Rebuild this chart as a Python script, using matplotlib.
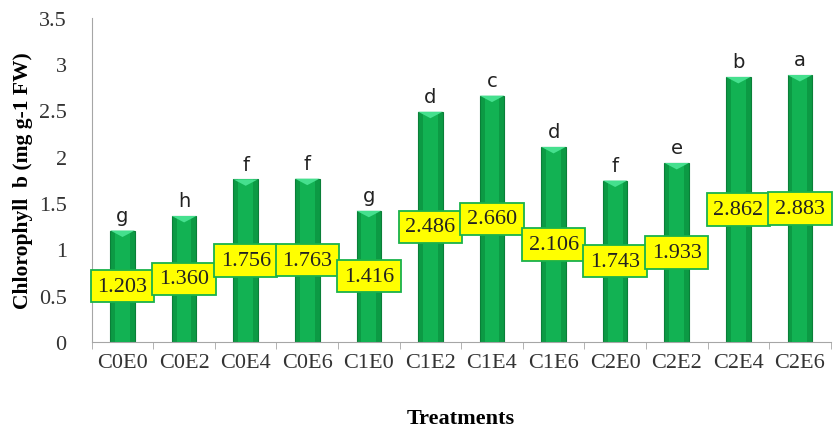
import matplotlib
matplotlib.use('Agg')
import matplotlib.pyplot as plt
import numpy as np

treatments = ['C0E0', 'C0E2', 'C0E4', 'C0E6', 'C1E0', 'C1E2',
              'C1E4', 'C1E6', 'C2E0', 'C2E2', 'C2E4', 'C2E6']
chl_b = [1.203, 1.360, 1.756, 1.763, 1.416, 2.486,
         2.660, 2.106, 1.743, 1.933, 2.862, 2.883]
letters = ['g', 'h', 'f', 'f', 'g', 'd', 'c', 'd', 'f', 'e', 'b', 'a']

plt.rcParams['font.family'] = 'Liberation Serif'

fig = plt.figure(figsize=(8.34, 4.39), dpi=100)
ax = fig.add_axes([0.110, 0.219, 0.886, 0.738])

x = np.arange(len(treatments))
width = 0.4

# main bar, darker edges, lighter core to fake the cylinder look
ax.bar(x, chl_b, width, color='#0C9A44', edgecolor='#0A7F38', linewidth=0.8, zorder=2)
ax.bar(x, chl_b, width * 0.6, color='#12B253', linewidth=0, zorder=3)
for xi, v in zip(x, chl_b):
    ax.fill([xi - width/2, xi + width/2, xi], [v, v, v - 0.07],
            color='#45E08E', zorder=4, linewidth=0)

for xi, v, lt in zip(x, chl_b, letters):
    ax.text(xi, v + 0.06, lt, ha='center', va='bottom', fontsize=14,
            family='DejaVu Sans', color='#222222')
    ax.text(xi, v / 2, f'{v:.3f}', ha='center', va='center', fontsize=16,
            zorder=5, color='#222222',
            bbox=dict(boxstyle='square,pad=0.3', fc='#FFFF00', ec='#19B24B', lw=1.3))

ax.set_xlim(-0.5, len(treatments) - 0.5)
ax.set_ylim(0, 3.5)
ax.set_yticks(np.arange(0, 3.51, 0.5))
ax.set_yticklabels(['0', '0.5', '1', '1.5', '2', '2.5', '3', '3.5'], fontsize=16)
ax.set_xticks(x)
ax.set_xticklabels(treatments, fontsize=16)
ax.set_xticks(np.arange(-0.5, len(treatments), 1), minor=True)
ax.tick_params(axis='x', which='major', length=0, pad=8, labelcolor='#333333')
ax.tick_params(axis='x', which='minor', length=5, color='#A6A6A6')
ax.tick_params(axis='y', length=0, pad=18, labelcolor='#333333')

for s in ['top', 'right']:
    ax.spines[s].set_visible(False)
ax.spines['left'].set_color('#A6A6A6')
ax.spines['bottom'].set_color('#A6A6A6')

ax.set_ylabel('Chlorophyll  b (mg g-1 FW)', fontsize=15.5, fontweight='bold', labelpad=4)
ax.set_xlabel('Treatments', fontsize=16, fontweight='bold', labelpad=26)

fig.savefig('out.png', dpi=100)
